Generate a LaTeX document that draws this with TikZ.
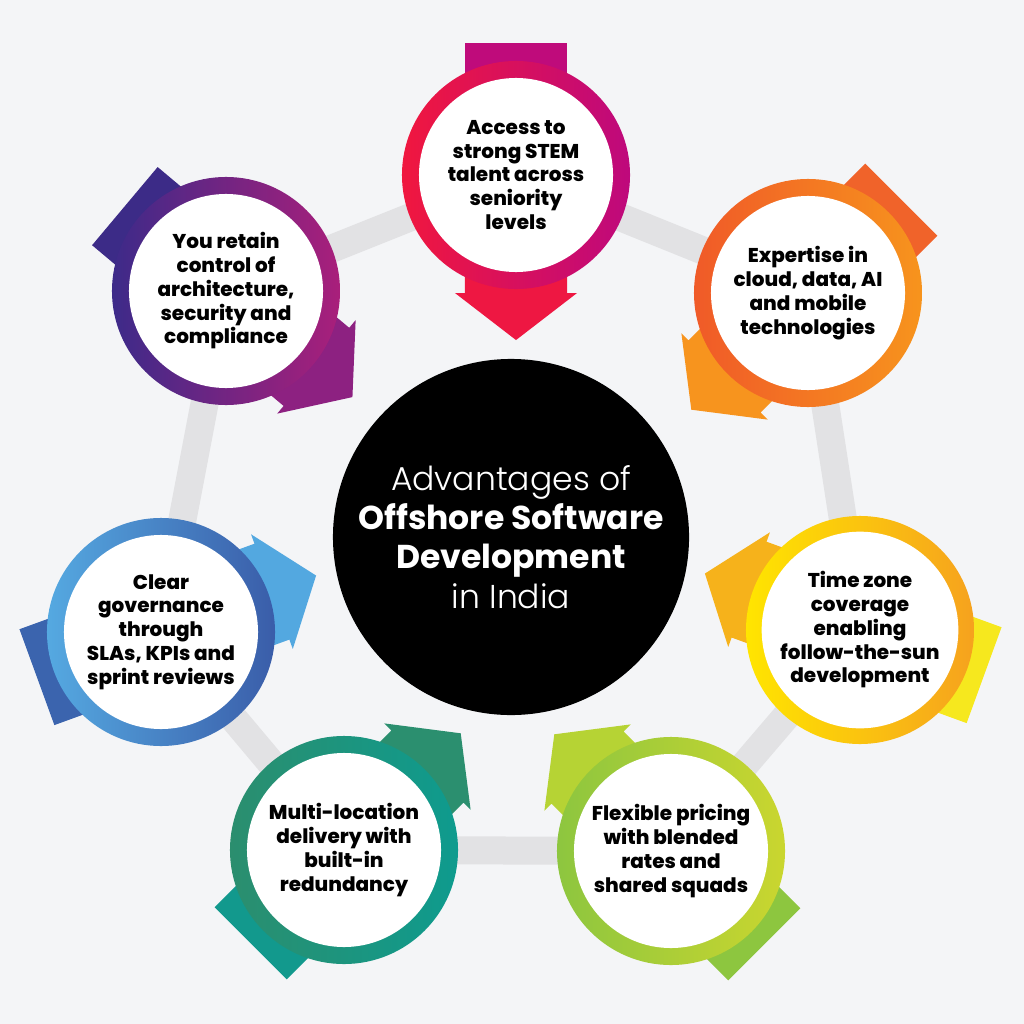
\documentclass[tikz,border=0pt]{standalone}
\usepackage{fontspec}
\setmainfont{Poppins}
\newfontfamily\thinfont{Poppins Light}
\newfontfamily\heavyfont{Poppins ExtraBold}
\usepackage{tikz}
\usetikzlibrary{calc}
\pgfdeclarelayer{back}
\pgfdeclarelayer{mid}
\pgfsetlayers{back,mid,main}
\definecolor{paper}{HTML}{F4F5F7}
\definecolor{linkgray}{HTML}{E2E2E4}
% ring gradients (left / right) and arrow colours (tail / head)
\definecolor{topL}{HTML}{F0173F}\definecolor{topR}{HTML}{BE097C}
\definecolor{topT}{HTML}{BF0B7B}\definecolor{topH}{HTML}{EE1742}
\definecolor{orgL}{HTML}{F05A28}\definecolor{orgR}{HTML}{F7941D}
\definecolor{orgT}{HTML}{F0632A}\definecolor{orgH}{HTML}{F7941E}
\definecolor{yelL}{HTML}{FFE500}\definecolor{yelR}{HTML}{F6A21E}
\definecolor{yelT}{HTML}{F6E81E}\definecolor{yelH}{HTML}{F6B21B}
\definecolor{limL}{HTML}{8DC63F}\definecolor{limR}{HTML}{CAD62F}
\definecolor{limT}{HTML}{8DC63F}\definecolor{limH}{HTML}{B6D334}
\definecolor{tealL}{HTML}{2B8E6E}\definecolor{tealR}{HTML}{0E9B8E}
\definecolor{tealT}{HTML}{12998D}\definecolor{tealH}{HTML}{2B8F6F}
\definecolor{bluL}{HTML}{55A9E1}\definecolor{bluR}{HTML}{3A5DA9}
\definecolor{bluT}{HTML}{3B64AE}\definecolor{bluH}{HTML}{53A8E0}
\definecolor{purL}{HTML}{3D2A89}\definecolor{purR}{HTML}{A91F7B}
\definecolor{purT}{HTML}{3C2B87}\definecolor{purH}{HTML}{8D2181}

\begin{document}
\begin{tikzpicture}[
    x=.025cm,y=-.025cm,
    ring/.style={circle,minimum size=5.7cm,inner sep=0pt},
    disc/.style={circle,fill=white,minimum size=4.85cm,inner sep=0pt,align=center,
      font=\heavyfont\fontsize{14.2}{16.9}\selectfont},
    hub/.style={circle,fill=black,minimum size=8.9cm,inner sep=0pt,align=center,text=white,
      font=\fontsize{23.5}{27.8}\selectfont},
    link/.style={line width=.7cm,linkgray}
  ]
    \useasboundingbox (0,0) rectangle (1024,1024);
    \node[hub] (hub) at (511,537) {{\thinfont Advantages of}\\{\bfseries Offshore Software}\\{\bfseries Development}\\{\thinfont in India}};
    \node[ring,left color=topL,right color=topR] (r1) at (516,175) {};
    \node[disc] (c1) at (r1) {Access to\\strong STEM\\talent across\\seniority\\levels};
    \node[ring,left color=orgL,right color=orgR] (r2) at (808,293) {};
    \node[disc] (c2) at (r2) {Expertise in\\cloud, data, AI\\and mobile\\technologies};
    \node[ring,left color=yelL,right color=yelR] (r3) at (860,630) {};
    \node[disc] (c3) at (r3) {Time zone\\coverage\\enabling\\follow-the-sun\\development};
    \node[ring,left color=limL,right color=limR] (r4) at (671,851) {};
    \node[disc] (c4) at (r4) {Flexible pricing\\with blended\\rates and\\shared squads};
    \node[ring,left color=tealL,right color=tealR] (r5) at (344,850) {};
    \node[disc] (c5) at (r5) {Multi-location\\delivery with\\built-in\\redundancy};
    \node[ring,left color=bluL,right color=bluR] (r6) at (161,632) {};
    \node[disc] (c6) at (r6) {Clear\\governance\\through\\SLAs, KPIs and\\sprint reviews};
    \node[ring,left color=purL,right color=purR] (r7) at (226,291) {};
    \node[disc] (c7) at (r7) {You retain\\control of\\architecture,\\security and\\compliance};
    % arrows behind the rings
    \begin{pgfonlayer}{mid}
      \foreach \n/\a/\ct/\ch in {r1/-90/topT/topH,r2/225/orgT/orgH,r3/160/yelT/yelH,r4/135/limT/limH,r5/45/tealT/tealH,r6/20/bluT/bluH,r7/-40/purT/purH} {
        \begin{scope}[shift={(\n.center)},rotate=\a]
          \fill[\ct] (-3.3cm,-1.275cm) rectangle (0cm,1.275cm);
          \fill[\ch] (-.01cm,-1.275cm) -- (2.95cm,-1.275cm) -- (2.95cm,-1.525cm) -- (4.125cm,0cm)
            -- (2.95cm,1.525cm) -- (2.95cm,1.275cm) -- (-.01cm,1.275cm) -- cycle;
        \end{scope}
      }
    \end{pgfonlayer}
    \begin{pgfonlayer}{back}
      \fill[paper] (0,0) rectangle (1024,1024);
      \foreach \s/\t in {r1/r2,r2/r3,r3/r4,r4/r5,r5/r6,r6/r7,r7/r1} {\draw[link] (\s.center)--(\t.center);}
    \end{pgfonlayer}
  \end{tikzpicture}
\end{document}
